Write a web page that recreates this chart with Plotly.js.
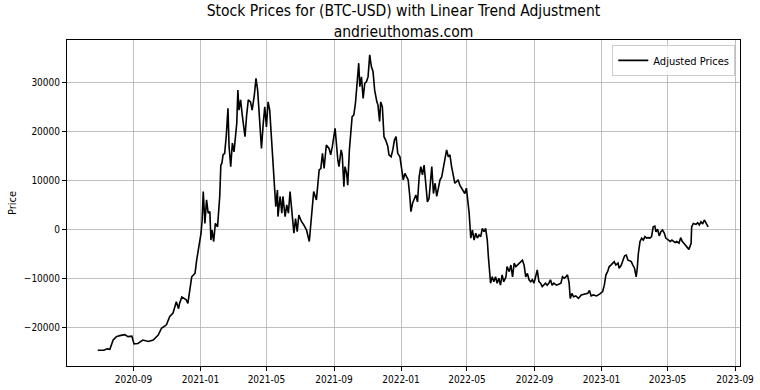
<!DOCTYPE html>
<html>
<head>
<meta charset="utf-8">
<script src="https://cdn.plot.ly/plotly-3.0.1.min.js"></script>
<style>html,body{margin:0;padding:0;background:#fff}#chart{width:760px;height:390px}</style>
</head>
<body>
<div id="chart"></div>
<script>
// Data: days since 2020-07-01 and adjusted price values
const startDate = '2020-07-01';
const dayOffsets = [
  -3,8,14,19,25,31,37,46,52,59,
  63,70,79,89,98,107,113,122,128,134,
  140,144,146,150,158,161,168,174,177,181,
  185,187,189,192,195,198,201,203,205,208,
  211,215,217,219,221,223,225,228,231,234,
  236,239,242,245,250,252,254,257,260,265,
  268,271,275,278,282,285,288,291,295,298,
  301,304,307,310,314,318,321,324,325,329,
  332,334,338,341,344,347,351,354,357,360,
  363,368,372,377,382,386,390,395,400,403,
  406,409,413,418,421,424,429,434,436,440,
  442,445,447,450,452,455,458,460,463,466,
  469,472,474,477,480,483,486,489,492,495,
  498,501,505,507,510,512,515,518,521,525,
  527,531,534,537,540,543,547,550,553,556,
  559,562,565,567,570,573,576,579,582,585,
  588,591,594,597,600,603,605,608,611,614,
  617,620,623,626,629,632,635,638,641,644,
  647,650,653,656,659,662,665,668,670,673,
  675,676,679,682,685,688,691,694,697,700,
  703,706,708,710,712,715,718,721,724,727,
  730,733,736,740,742,746,749,752,755,758,
  761,764,767,770,773,776,779,782,785,788,
  791,794,797,800,803,806,809,812,815,818,
  821,824,827,832,837,840,843,846,849,852,
  855,857,860,863,867,872,877,883,889,892,
  895,899,905,911,916,919,922,925,928,931,
  934,937,940,944,946,950,953,956,959,962,
  965,968,971,974,977,979,981,984,987,990,
  993,996,999,1002,1005,1008,1011,1013,1016,1019,
  1022,1025,1028,1031,1036,1039,1042,1045,1048,1051,
  1055,1058,1061,1065,1068,1071,1073,1077,1078,1081,
  1086,1089,1092,1095,1098,1101,1105,1108
];
const adjustedPrices = [
  -24700,-24700,-24400,-24500,-22600,-21900,-21700,-21500,-21900,-21800,
  -23400,-23300,-22600,-22900,-22600,-21600,-20200,-19500,-17800,-17100,
  -14800,-16200,-15100,-13800,-14400,-15100,-9700,-9000,-6300,-3550,
  -800,1900,7700,1200,6000,3300,3600,-2200,-150,-2500,
  1200,500,4300,6700,13100,13500,15200,15500,19200,24700,
  16900,12800,17600,15800,21600,28400,24300,26400,23300,18900,
  23300,26400,26000,24300,27400,30800,28400,23300,16500,21300,
  25000,20900,26000,24300,17200,11400,4600,8000,2600,6700,
  3300,6700,2600,5000,3300,7700,3300,-800,2200,-500,
  2900,1550,900,-150,-2500,2600,7700,6000,12100,12400,
  15500,12400,17200,16500,15200,16900,20600,14100,12800,16200,
  15200,8700,12800,11400,9000,16200,19600,23000,23300,25700,
  29800,33900,29100,31100,26700,29800,30100,31100,35600,33200,
  32200,28400,26000,25400,22000,26000,25000,18900,18200,16900,
  15200,14800,16200,18200,18900,15500,14800,12400,10100,11400,
  10700,10100,6700,3600,5300,6000,7000,5600,10700,12800,
  11100,13100,9400,5600,6300,10100,12800,7300,9400,6700,
  8700,10100,10700,12800,14800,16200,14800,15200,12800,11400,
  9400,9700,10100,9000,8400,7700,7300,8400,6700,3300,
  -150,-1800,-150,-2200,-800,-1800,-1150,-1500,200,-500,
  200,-2200,-5600,-8650,-11000,-9700,-10700,-9700,-11000,-10000,
  -11400,-9300,-10700,-9700,-7600,-8650,-7300,-9700,-6900,-7600,
  -7300,-6900,-6600,-6300,-7300,-9700,-9000,-10300,-10700,-10300,
  -11000,-9700,-8300,-10700,-11000,-11700,-11400,-11000,-11400,-11000,
  -10300,-11400,-11000,-11400,-11150,-11000,-9700,-10000,-9700,-9300,
  -11000,-14100,-13100,-13750,-13600,-14100,-13400,-13200,-13050,-12500,
  -13600,-13400,-13600,-13200,-12700,-11400,-9300,-8650,-7600,-7300,
  -6900,-6600,-7300,-6900,-7950,-7300,-6300,-5400,-5250,-6300,
  -6400,-6600,-7300,-7950,-9700,-7950,-4900,-2500,-1800,-2200,
  -1500,-1800,-1700,-1800,-1500,500,650,-500,0,-1350,
  -500,-150,-700,-1800,-2200,-2500,-2200,-2500,-2700,-2500,
  -2850,-1700,-2500,-3000,-3400,-3700,-4100,-2850,500,1200,
  1000,1350,900,1550,1100,1900,900,500
];
const seriesName = 'Adjusted Prices';
const titleLines = ['Stock Prices for (BTC-USD) with Linear Trend Adjustment', 'andrieuthomas.com'];
const yLabel = 'Price';

const base = Date.parse(startDate + 'T00:00:00Z');
const dates = dayOffsets.map(d => new Date(base + d * 86400000).toISOString().slice(0, 10));

const FONT = '"DejaVu Sans Condensed", "Liberation Sans Narrow", "DejaVu Sans", sans-serif';

const trace = {
  x: dates, y: adjustedPrices, type: 'scatter', mode: 'lines', name: seriesName,
  line: {color: '#000000', width: 1.6}
};

const axisCommon = {
  showline: true, mirror: true, linecolor: '#000', linewidth: 1,
  ticks: 'outside', ticklen: 4, tickcolor: '#000', tickwidth: 1,
  showgrid: true, gridcolor: '#b0b0b0', gridwidth: 0.8, zeroline: false,
  tickfont: {family: FONT, size: 10, color: '#000'}
};

const layout = {
  width: 760, height: 390,
  margin: {l: 67, r: 20, t: 40, b: 24},
  paper_bgcolor: '#fff', plot_bgcolor: '#fff',
  font: {family: FONT, color: '#000'},
  title: {text: titleLines.join('<br>'), xref: 'paper', x: 0.5, xanchor: 'center', yref: 'container', y: 0.958, yanchor: 'middle',
          font: {family: FONT, size: 15.5, color: '#000'}},
  showlegend: true,
  legend: {x: 0.993, y: 0.985, xanchor: 'right', yanchor: 'top', bgcolor: 'rgba(255,255,255,0.8)',
           bordercolor: '#cccccc', borderwidth: 1, font: {family: FONT, size: 11, color: '#000'}},
  xaxis: Object.assign({}, axisCommon, {
    type: 'date', range: ['2020-05-03', '2023-09-10'],
    tick0: '2020-09-01', dtick: 'M4', tickformat: '%Y-%m'
  }),
  yaxis: Object.assign({}, axisCommon, {
    range: [-27900, 38630], tick0: 0, dtick: 10000, tickformat: 'd',
    title: {text: yLabel, font: {family: FONT, size: 11, color: '#000'}, standoff: 4}
  })
};

Plotly.newPlot('chart', [trace], layout, {displayModeBar: false, staticPlot: true});
</script>
</body>
</html>
